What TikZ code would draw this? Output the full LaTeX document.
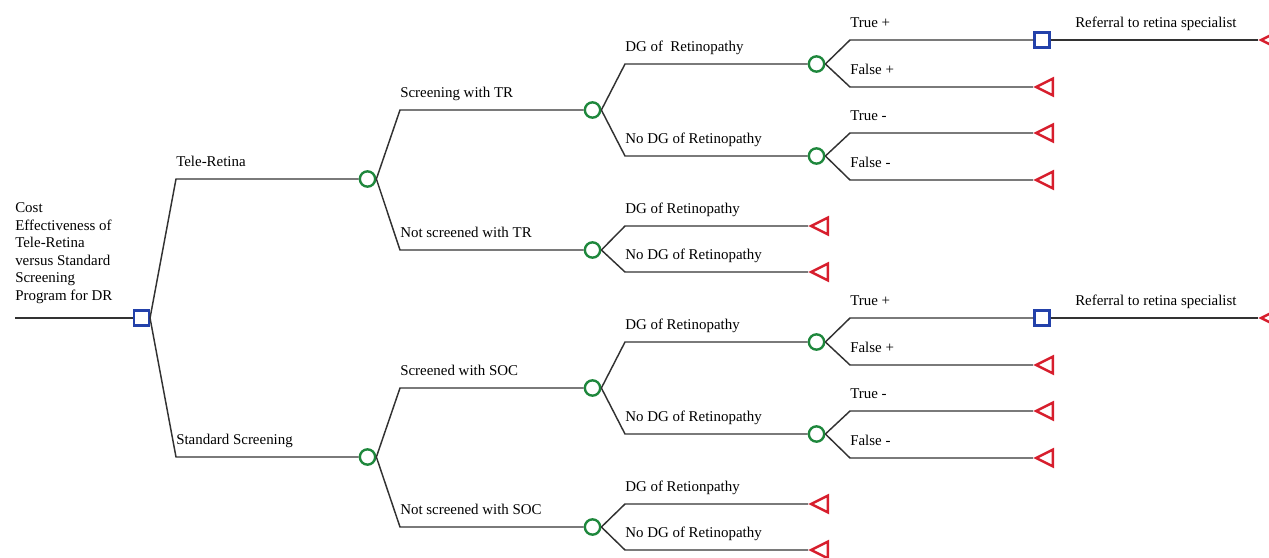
\documentclass[tikz,border=0pt]{standalone}
\usepackage{fontspec}
\setmainfont{Liberation Serif}
\usetikzlibrary{shapes.geometric}
\definecolor{chgreen}{RGB}{30,135,60}
\definecolor{decblue}{RGB}{35,65,170}
\definecolor{endred}{RGB}{215,30,45}
\definecolor{branchgray}{RGB}{50,50,50}
\begin{document}
\begin{tikzpicture}[x=0.75pt, y=-0.75pt, font=\fontsize{11.2}{13.1}\selectfont,
	branch/.style={draw=branchgray, line width=1.1pt},
	chance/.style={circle, draw=chgreen, line width=1.8pt, minimum size=11.5pt, inner sep=0pt},
	decision/.style={rectangle, draw=decblue, line width=1.8pt, minimum size=11pt, inner sep=0pt},
	terminal/.style={isosceles triangle, isosceles triangle stretches, shape border rotate=180, draw=endred, line width=1.8pt, minimum width=12.5pt, minimum height=12.5pt, inner sep=0pt, anchor=apex},
	lbl/.style={anchor=base west, inner sep=0pt, yshift=9.4pt},
	titlelbl/.style={anchor=south west, inner sep=0pt, align=left}]
		\useasboundingbox (0,0) rectangle (1269,557);
		
		% Root
		\coordinate (r0) at (15,318);
		\node[decision] (d0) at (141.5,318) {};
		\node[titlelbl] (title) at (15,303.5) {Cost\\Effectiveness of\\Tele-Retina\\versus Standard\\Screening\\Program for DR};
		\draw[branch] (r0) -- (d0);
		
		% Tele-Retina
		\coordinate (e1) at (176,179);
		\node[chance] (c1) at (367.5,179) {};
		\node[lbl] (l1) at (e1) {Tele-Retina};
		\draw[branch] (d0.east) -- (e1) -- (c1);
		
		\coordinate (e11) at (400,110);
		\node[chance] (c11) at (592.5,110) {};
		\node[lbl] (l11) at (e11) {Screening with TR};
		\draw[branch] (c1.east) -- (e11) -- (c11);
		
		\coordinate (e12) at (400,250);
		\node[chance] (c12) at (592.5,250) {};
		\node[lbl] (l12) at (e12) {Not screened with TR};
		\draw[branch] (c1.east) -- (e12) -- (c12);
		
		\coordinate (e111) at (625,64);
		\node[chance] (c111) at (816.5,64) {};
		\node[lbl] (l111) at (e111) {DG of~ Retinopathy};
		\draw[branch] (c11.east) -- (e111) -- (c111);
		
		\coordinate (e112) at (625,156);
		\node[chance] (c112) at (816.5,156) {};
		\node[lbl] (l112) at (e112) {No DG of Retinopathy};
		\draw[branch] (c11.east) -- (e112) -- (c112);
		
		\coordinate (e121) at (625,226);
		\node[terminal] (t121) at (808,226) {};
		\node[lbl] (l121) at (e121) {DG of Retinopathy};
		\draw[branch] (c12.east) -- (e121) -- (t121.apex);
		
		\coordinate (e122) at (625,272);
		\node[terminal] (t122) at (808,272) {};
		\node[lbl] (l122) at (e122) {No DG of Retinopathy};
		\draw[branch] (c12.east) -- (e122) -- (t122.apex);
		
		\coordinate (e1111) at (850,40);
		\node[decision] (d1) at (1042,40) {};
		\node[lbl] (l1111) at (e1111) {True +};
		\draw[branch] (c111.east) -- (e1111) -- (d1);
		
		\node[terminal] (t1) at (1258,40) {};
		\node[lbl] (lr1) at (1075,40) {Referral to retina specialist};
		\draw[branch] (d1) -- (t1.apex);
		
		\coordinate (e1112) at (850,87);
		\node[terminal] (t1112) at (1033,87) {};
		\node[lbl] (l1112) at (e1112) {False +};
		\draw[branch] (c111.east) -- (e1112) -- (t1112.apex);
		
		\coordinate (e1121) at (850,133);
		\node[terminal] (t1121) at (1033,133) {};
		\node[lbl] (l1121) at (e1121) {True -};
		\draw[branch] (c112.east) -- (e1121) -- (t1121.apex);
		
		\coordinate (e1122) at (850,180);
		\node[terminal] (t1122) at (1033,180) {};
		\node[lbl] (l1122) at (e1122) {False -};
		\draw[branch] (c112.east) -- (e1122) -- (t1122.apex);
		
		% Standard Screening
		\coordinate (e2) at (176,457);
		\node[chance] (c2) at (367.5,457) {};
		\node[lbl] (l2) at (e2) {Standard Screening};
		\draw[branch] (d0.east) -- (e2) -- (c2);
		
		\coordinate (e21) at (400,388);
		\node[chance] (c21) at (592.5,388) {};
		\node[lbl] (l21) at (e21) {Screened with SOC};
		\draw[branch] (c2.east) -- (e21) -- (c21);
		
		\coordinate (e22) at (400,527);
		\node[chance] (c22) at (592.5,527) {};
		\node[lbl] (l22) at (e22) {Not screened with SOC};
		\draw[branch] (c2.east) -- (e22) -- (c22);
		
		\coordinate (e211) at (625,342);
		\node[chance] (c211) at (816.5,342) {};
		\node[lbl] (l211) at (e211) {DG of Retinopathy};
		\draw[branch] (c21.east) -- (e211) -- (c211);
		
		\coordinate (e212) at (625,434);
		\node[chance] (c212) at (816.5,434) {};
		\node[lbl] (l212) at (e212) {No DG of Retinopathy};
		\draw[branch] (c21.east) -- (e212) -- (c212);
		
		\coordinate (e221) at (625,504);
		\node[terminal] (t221) at (808,504) {};
		\node[lbl] (l221) at (e221) {DG of Retionpathy};
		\draw[branch] (c22.east) -- (e221) -- (t221.apex);
		
		\coordinate (e222) at (625,550);
		\node[terminal] (t222) at (808,550) {};
		\node[lbl] (l222) at (e222) {No DG of Retinopathy};
		\draw[branch] (c22.east) -- (e222) -- (t222.apex);
		
		\coordinate (e2111) at (850,318);
		\node[decision] (d2) at (1042,318) {};
		\node[lbl] (l2111) at (e2111) {True +};
		\draw[branch] (c211.east) -- (e2111) -- (d2);
		
		\node[terminal] (t2) at (1258,318) {};
		\node[lbl] (lr2) at (1075,318) {Referral to retina specialist};
		\draw[branch] (d2) -- (t2.apex);
		
		\coordinate (e2112) at (850,365);
		\node[terminal] (t2112) at (1033,365) {};
		\node[lbl] (l2112) at (e2112) {False +};
		\draw[branch] (c211.east) -- (e2112) -- (t2112.apex);
		
		\coordinate (e2121) at (850,411);
		\node[terminal] (t2121) at (1033,411) {};
		\node[lbl] (l2121) at (e2121) {True -};
		\draw[branch] (c212.east) -- (e2121) -- (t2121.apex);
		
		\coordinate (e2122) at (850,458);
		\node[terminal] (t2122) at (1033,458) {};
		\node[lbl] (l2122) at (e2122) {False -};
		\draw[branch] (c212.east) -- (e2122) -- (t2122.apex);
		
	\end{tikzpicture}
\end{document}
